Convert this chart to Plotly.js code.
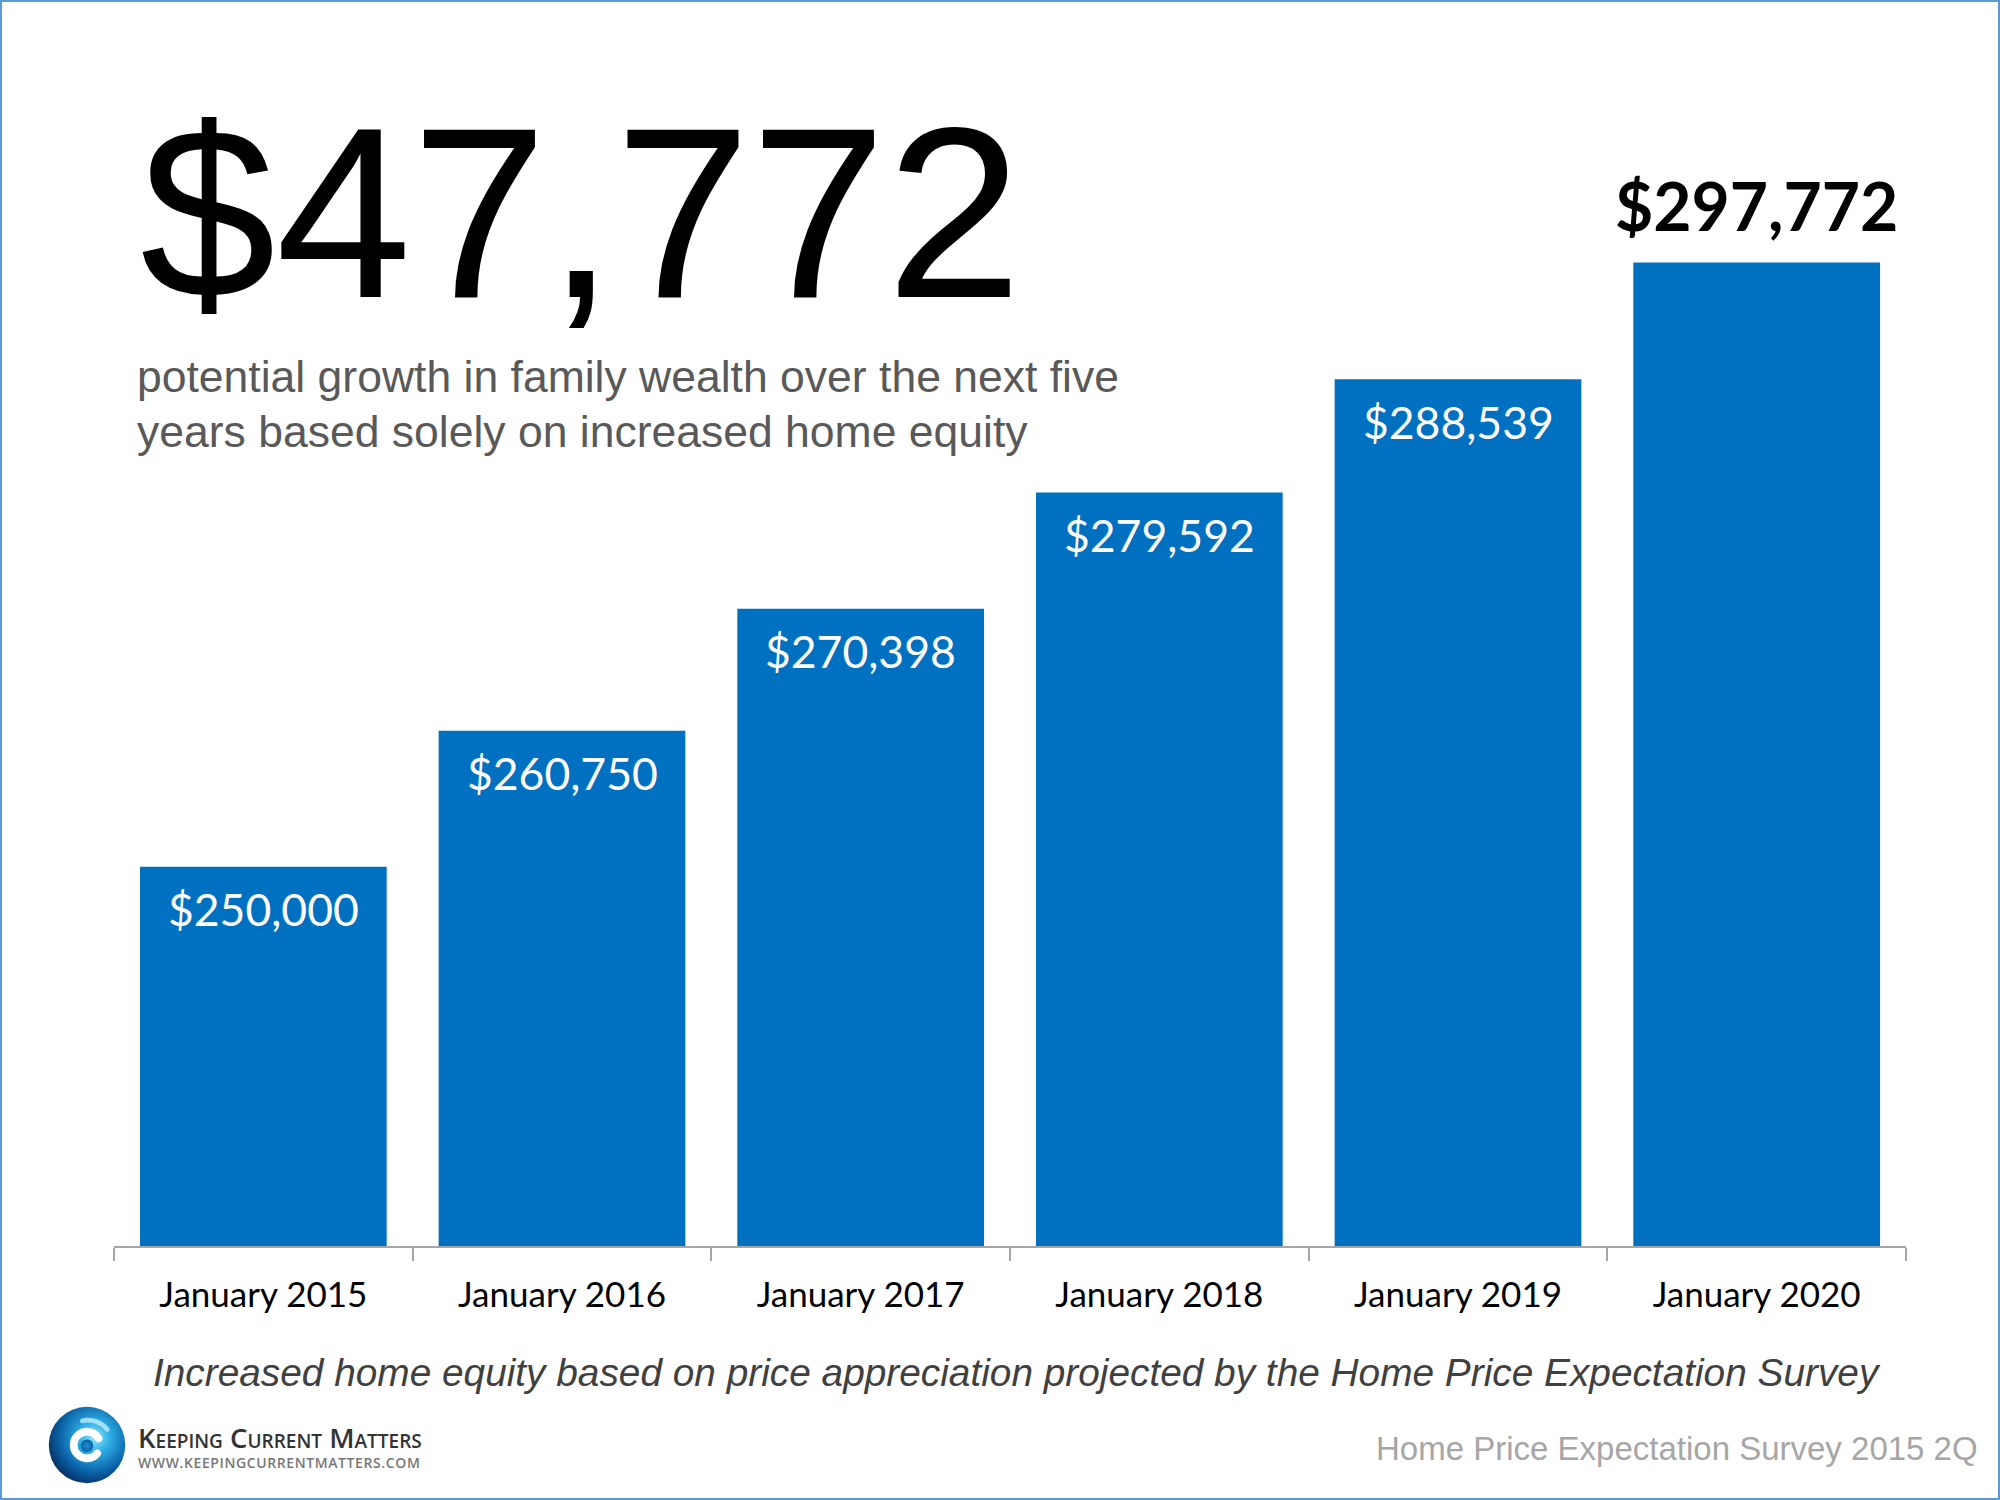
<!DOCTYPE html>
<html>
<head>
<meta charset="utf-8">
<script src="https://cdn.plot.ly/plotly-3.0.1.min.js"></script>
<style>
  html, body { margin: 0; padding: 0; background: #ffffff; }
  #wrap { position: relative; width: 2000px; height: 1500px; }
  #chart { width: 2000px; height: 1500px; }
  #frame { position: absolute; left: 0; top: 0; width: 2000px; height: 1500px; box-sizing: border-box; border: 2px solid #5b9bd5; pointer-events: none; }
</style>
</head>
<body>
<div id="wrap"><div id="chart"></div><div id="frame"></div></div>
<script>
// ---- data ----
const categories = ['January 2015', 'January 2016', 'January 2017', 'January 2018', 'January 2019', 'January 2020'];
const values = [250000, 260750, 270398, 279592, 288539, 297772];
const headline = '$47,772';
const subtitleLines = ['potential growth in family wealth over the next five', 'years based solely on increased home equity'];
const caption = 'Increased home equity based on price appreciation projected by the Home Price Expectation Survey';
const sourceText = 'Home Price Expectation Survey 2015 2Q';
const brandName = 'Keeping Current Matters';
const brandUrl = 'WWW.KEEPINGCURRENTMATTERS.COM';

// ---- geometry helpers (figure pixels -> paper) ----
const W = 2000, H = 1500;
const M = { l: 114, r: 94, t: 108, b: 254 };
const PW = W - M.l - M.r, PH = H - M.t - M.b;
const px = x => (x - M.l) / PW;
const py = y => (H - M.b - y) / PH;

const fmt = v => '$' + v.toLocaleString('en-US');

const annotations = [];
values.forEach((v, i) => {
  const last = i === values.length - 1;
  annotations.push({
    x: categories[i], y: v, xref: 'x', yref: 'y',
    text: last ? '<b>' + fmt(v) + '</b>' : fmt(v),
    showarrow: false, xanchor: 'center', yanchor: 'middle',
    yshift: last ? 57 : -42,
    font: last ? { family: 'Lato', size: 66, color: '#000000', weight: 700 }
               : { family: 'Lato', size: 44.5, color: '#ffffff' }
  });
});

annotations.push({
  xref: 'paper', yref: 'paper', x: px(138), y: py(213), xanchor: 'left', yanchor: 'middle',
  text: headline, showarrow: false,
  font: { family: 'Liberation Sans, Arial, sans-serif', size: 244, color: '#000000' }
});
subtitleLines.forEach((t, i) => {
  annotations.push({
    xref: 'paper', yref: 'paper', x: px(135), y: py(376.5 + i * 55), xanchor: 'left', yanchor: 'middle',
    text: t, showarrow: false,
    font: { family: 'Liberation Sans, Arial, sans-serif', size: 44.5, color: '#595959' }
  });
});
annotations.push({
  xref: 'paper', yref: 'paper', x: px(1017), y: py(1372), xanchor: 'center', yanchor: 'middle',
  text: '<i>' + caption + '</i>', showarrow: false,
  font: { family: 'Liberation Sans, Arial, sans-serif', size: 38.8, color: '#404040' }
});
annotations.push({
  xref: 'paper', yref: 'paper', x: px(1980), y: py(1448), xanchor: 'right', yanchor: 'middle',
  text: sourceText, showarrow: false,
  font: { family: 'Liberation Sans, Arial, sans-serif', size: 33, color: '#a6a6a6' }
});
annotations.push({
  xref: 'paper', yref: 'paper', x: px(136), y: py(1437), xanchor: 'left', yanchor: 'middle',
  text: brandName, showarrow: false,
  font: { family: 'Open Sans', size: 27.5, color: '#333333', weight: 600, variant: 'small-caps' }
});
annotations.push({
  xref: 'paper', yref: 'paper', x: px(136), y: py(1462), xanchor: 'left', yanchor: 'middle',
  text: '<span style="letter-spacing:0.6px">' + brandUrl + '</span>', showarrow: false,
  font: { family: 'Open Sans', size: 14, color: '#777777', weight: 600 }
});

const svg = "<svg xmlns='http://www.w3.org/2000/svg' viewBox='0 0 100 100'>" +
  "<defs><radialGradient id='g' cx='0.6' cy='0.4' r='0.65'>" +
  "<stop offset='0' stop-color='#9be6fa'/><stop offset='0.3' stop-color='#2fb0e6'/>" +
  "<stop offset='0.7' stop-color='#0a63a8'/><stop offset='1' stop-color='#072f62'/></radialGradient>" +
  "<radialGradient id='c' cx='0.5' cy='0.5' r='0.5'><stop offset='0' stop-color='#1c8fd0'/><stop offset='1' stop-color='#0b5fa3'/></radialGradient></defs>" +
  "<circle cx='50' cy='50' r='49' fill='url(#g)'/>" +
  "<path d='M76 30 A32 32 0 0 0 44 19' fill='none' stroke='#c8f1fd' stroke-width='6' stroke-linecap='round' opacity='0.75'/>" +
  "<path d='M64.7 41.5 A17 17 0 1 0 63 60.9' fill='none' stroke='#ffffff' stroke-width='10' stroke-linecap='round'/>" +
  "<circle cx='50' cy='51' r='8' fill='url(#c)'/>" +
  "</svg>";

const trace = {
  type: 'bar', x: categories, y: values,
  marker: { color: '#0070c0' },
  hoverinfo: 'skip'
};

const layout = {
  width: W, height: H,
  margin: M,
  paper_bgcolor: '#ffffff', plot_bgcolor: '#ffffff',
  bargap: 0.174,
  showlegend: false,
  xaxis: {
    type: 'category', showgrid: false, zeroline: false,
    showline: true, linecolor: '#a6a6a6', linewidth: 2,
    ticks: 'outside', tickson: 'boundaries', ticklen: 13, tickwidth: 2, tickcolor: '#a6a6a6',
    tickfont: { family: 'Lato', size: 35, color: '#000000' },
    ticklabelstandoff: 17,
    fixedrange: true
  },
  yaxis: { range: [220000, 310000], visible: false, showgrid: false, zeroline: false, fixedrange: true },
  annotations: annotations,
  images: [{
    source: 'data:image/svg+xml;charset=utf-8,' + encodeURIComponent(svg),
    xref: 'paper', yref: 'paper', x: px(87), y: py(1445),
    sizex: 78 / PW, sizey: 78 / PH, xanchor: 'center', yanchor: 'middle', sizing: 'contain', layer: 'above'
  }]
};

Plotly.newPlot('chart', [trace], layout, { displayModeBar: false, staticPlot: true });
</script>
</body>
</html>
